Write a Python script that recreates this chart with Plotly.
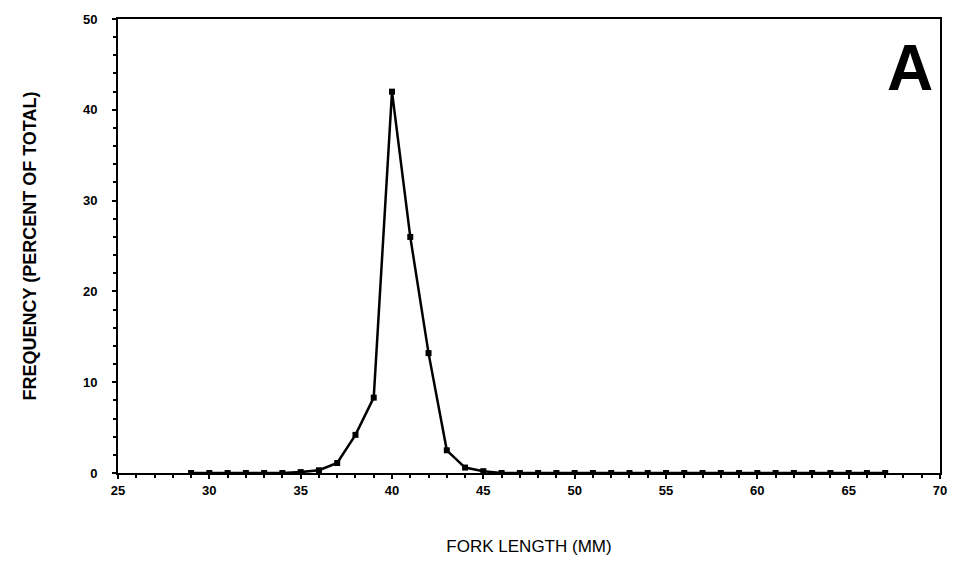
import plotly.graph_objects as go

fork_length = [29, 30, 31, 32, 33, 34, 35, 36, 37, 38, 39, 40, 41, 42, 43, 44, 45, 46, 47, 48, 49, 50,
               51, 52, 53, 54, 55, 56, 57, 58, 59, 60, 61, 62, 63, 64, 65, 66, 67]
frequency = [0.0, 0.0, 0.0, 0.0, 0.0, 0.0, 0.1, 0.3, 1.1, 4.2, 8.3, 42.0, 26.0, 13.2, 2.5, 0.6, 0.2, 0.0,
             0.0, 0.0, 0.0, 0.0, 0.0, 0.0, 0.0, 0.0, 0.0, 0.0, 0.0, 0.0, 0.0, 0.0, 0.0, 0.0, 0.0, 0.0,
             0.0, 0.0, 0.0]
x_ticks = [25, 30, 35, 40, 45, 50, 55, 60, 65, 70]
y_ticks = [0, 10, 20, 30, 40, 50]

fig = go.Figure()
fig.add_trace(go.Scatter(
    x=fork_length, y=frequency, mode="lines+markers",
    line=dict(color="black", width=2.5),
    marker=dict(symbol="square", size=6, color="black"),
    showlegend=False,
))

tick_font = dict(family="Liberation Sans, Arial, sans-serif", size=13, color="black", weight="bold")
xtitle_font = dict(family="Liberation Sans, Arial, sans-serif", size=17, color="#000000")
ytitle_font = dict(family="Liberation Sans, Arial, sans-serif", size=18, color="#000000", weight="bold")

fig.update_layout(
    width=959, height=565,
    margin=dict(l=118, r=17, t=13, b=89),
    paper_bgcolor="white", plot_bgcolor="white",
    xaxis=dict(
        range=[25, 70], tickvals=x_ticks, ticktext=[str(v) for v in x_ticks],
        showgrid=False, zeroline=False, showline=True, linecolor="black", linewidth=2,
        mirror=True, ticks="outside", ticklen=4, tickwidth=2, tickcolor="black",
        minor=dict(dtick=1, ticks="outside", ticklen=3, tickwidth=2, tickcolor="black"),
        tickfont=tick_font,
        title=dict(text="FORK LENGTH (MM)", font=xtitle_font, standoff=44),
    ),
    yaxis=dict(
        range=[0, 50], tickvals=y_ticks, ticktext=[str(v) for v in y_ticks],
        showgrid=False, zeroline=False, showline=True, linecolor="black", linewidth=2,
        mirror=True, ticks="outside", ticklen=4, tickwidth=2, tickcolor="black",
        minor=dict(dtick=2, ticks="outside", ticklen=3, tickwidth=2, tickcolor="black"),
        tickfont=tick_font, ticklabelstandoff=12,
        title=dict(text="FREQUENCY (PERCENT OF TOTAL)", font=ytitle_font, standoff=42),
    ),
    annotations=[dict(
        text="<b>A</b>", x=0.994, y=0.975, xref="paper", yref="paper",
        xanchor="right", yanchor="top", showarrow=False,
        font=dict(family="Liberation Sans, Arial, sans-serif", size=64, color="black"),
    )],
)

fig.write_html("out.html")
